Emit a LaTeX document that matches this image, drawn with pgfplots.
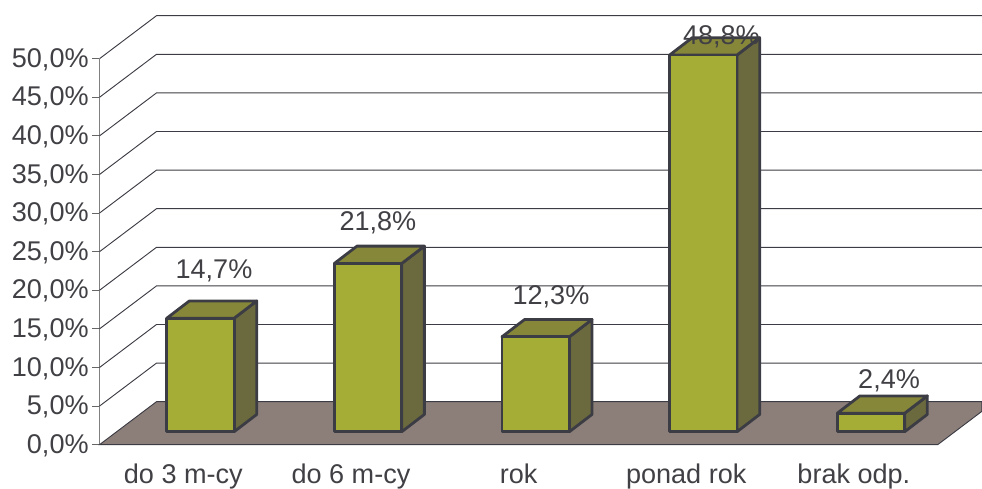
\documentclass[border=0pt]{standalone}
\usepackage{pgfplots}
\pgfplotsset{compat=1.18}
\usepackage{fontspec}
\setmainfont{Liberation Sans}
\definecolor{txt}{HTML}{404045}
\definecolor{edge}{HTML}{3C3C44}
\definecolor{front}{HTML}{A6AD36}
\definecolor{topc}{HTML}{87873A}
\definecolor{sidec}{HTML}{6B6A3E}
\definecolor{floorc}{HTML}{8C7F7A}
\begin{document}
\begin{tikzpicture}
\path[use as bounding box] (-74.625pt,-33.225pt) rectangle (661.875pt,333.525pt);
\begin{axis}[
  scale only axis, width=628.65pt, height=289.5pt,
  at={(0,0)}, anchor=south west,
  xmin=0, xmax=5, ymin=0, ymax=50, clip=false,
  axis lines=left, axis line style={-},
  x axis line style={color=edge, line width=0.9pt},
  y axis line style={color=black!50, line width=1pt},
  tick align=outside,
  xtick={0.5,1.5,2.5,3.5,4.5},
  xticklabels={do 3 m-cy,do 6 m-cy,rok,ponad rok,brak odp.},
  minor xtick={0,1,2,3,4,5},
  minor tick length=5.25pt,
  minor tick style={color=black!50, line width=0.8pt},
  xtick style={draw=none},
  ytick={0,5,...,50},
  yticklabels={{0,0\%},{5,0\%},{10,0\%},{15,0\%},{20,0\%},{25,0\%},{30,0\%},{35,0\%},{40,0\%},{45,0\%},{50,0\%}},
  ytick style={color=black!60, line width=0.8pt},
  major tick length=5.25pt,
  tick label style={font=\fontsize{20.3}{24}\selectfont, text=txt},
  xticklabel style={anchor=base, yshift=-24pt},
  yticklabel style={anchor=east, xshift=0.3pt, yshift=-0.7pt, inner xsep=3pt},
]
% grid lines: side wall and back wall
\addplot[edge, line width=0.7pt] coordinates {(0,5)(0.34,10.57)(5.264,10.57)};
\addplot[edge, line width=0.7pt] coordinates {(0,10)(0.34,15.57)(5.264,15.57)};
\addplot[edge, line width=0.7pt] coordinates {(0,15)(0.34,20.57)(5.264,20.57)};
\addplot[edge, line width=0.7pt] coordinates {(0,20)(0.34,25.57)(5.264,25.57)};
\addplot[edge, line width=0.7pt] coordinates {(0,25)(0.34,30.57)(5.264,30.57)};
\addplot[edge, line width=0.7pt] coordinates {(0,30)(0.34,35.57)(5.264,35.57)};
\addplot[edge, line width=0.7pt] coordinates {(0,35)(0.34,40.57)(5.264,40.57)};
\addplot[edge, line width=0.7pt] coordinates {(0,40)(0.34,45.57)(5.264,45.57)};
\addplot[edge, line width=0.7pt] coordinates {(0,45)(0.34,50.57)(5.264,50.57)};
\addplot[edge, line width=0.7pt] coordinates {(0,50)(0.34,55.57)(5.264,55.57)};
% floor
\addplot[draw=edge, line width=0.7pt, fill=floorc] coordinates {(0,0)(0.34,5.57)(5.264,5.57)(5.264,4.33)(5,0)} -- cycle;
% bar 1: 14.7
\addplot[draw=edge, line width=2.1pt, fill=sidec, line join=round] coordinates {(0.803,1.68)(0.938,3.92)(0.938,18.62)(0.803,16.38)} -- cycle;
\addplot[draw=edge, line width=2.1pt, fill=topc, line join=round] coordinates {(0.401,16.38)(0.536,18.62)(0.938,18.62)(0.803,16.38)} -- cycle;
\addplot[draw=edge, line width=2.1pt, fill=front, line join=round] coordinates {(0.401,1.68)(0.803,1.68)(0.803,16.38)(0.401,16.38)} -- cycle;
% bar 2: 21.8
\addplot[draw=edge, line width=2.1pt, fill=sidec, line join=round] coordinates {(1.803,1.68)(1.938,3.92)(1.938,25.72)(1.803,23.48)} -- cycle;
\addplot[draw=edge, line width=2.1pt, fill=topc, line join=round] coordinates {(1.401,23.48)(1.536,25.72)(1.938,25.72)(1.803,23.48)} -- cycle;
\addplot[draw=edge, line width=2.1pt, fill=front, line join=round] coordinates {(1.401,1.68)(1.803,1.68)(1.803,23.48)(1.401,23.48)} -- cycle;
% bar 3: 12.3
\addplot[draw=edge, line width=2.1pt, fill=sidec, line join=round] coordinates {(2.803,1.68)(2.938,3.92)(2.938,16.22)(2.803,13.98)} -- cycle;
\addplot[draw=edge, line width=2.1pt, fill=topc, line join=round] coordinates {(2.401,13.98)(2.536,16.22)(2.938,16.22)(2.803,13.98)} -- cycle;
\addplot[draw=edge, line width=2.1pt, fill=front, line join=round] coordinates {(2.401,1.68)(2.803,1.68)(2.803,13.98)(2.401,13.98)} -- cycle;
% bar 4: 48.8
\addplot[draw=edge, line width=2.1pt, fill=sidec, line join=round] coordinates {(3.803,1.68)(3.938,3.92)(3.938,52.72)(3.803,50.48)} -- cycle;
\addplot[draw=edge, line width=2.1pt, fill=topc, line join=round] coordinates {(3.401,50.48)(3.536,52.72)(3.938,52.72)(3.803,50.48)} -- cycle;
\addplot[draw=edge, line width=2.1pt, fill=front, line join=round] coordinates {(3.401,1.68)(3.803,1.68)(3.803,50.48)(3.401,50.48)} -- cycle;
% bar 5: 2.4
\addplot[draw=edge, line width=2.1pt, fill=sidec, line join=round] coordinates {(4.803,1.68)(4.938,3.92)(4.938,6.32)(4.803,4.08)} -- cycle;
\addplot[draw=edge, line width=2.1pt, fill=topc, line join=round] coordinates {(4.401,4.08)(4.536,6.32)(4.938,6.32)(4.803,4.08)} -- cycle;
\addplot[draw=edge, line width=2.1pt, fill=front, line join=round] coordinates {(4.401,1.68)(4.803,1.68)(4.803,4.08)(4.401,4.08)} -- cycle;
% value labels
\addplot[draw=none, mark=none, point meta=explicit symbolic,
  nodes near coords,
  nodes near coords style={anchor=center, inner sep=0pt, font=\fontsize{20.3}{24}\selectfont, text=txt}]
  coordinates {(0.683,22.53)[14,7\%] (1.661,28.75)[21,8\%] (2.693,19.16)[12,3\%] (3.71,52.85)[48,8\%] (4.71,8.28)[2,4\%]};
\end{axis}
\end{tikzpicture}
\end{document}
